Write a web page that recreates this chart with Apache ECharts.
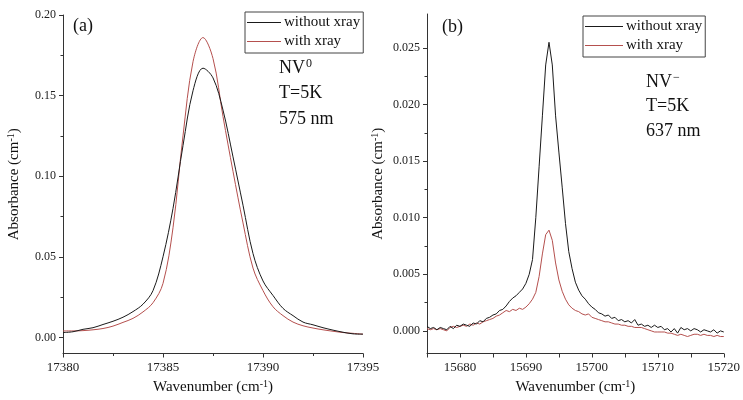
<!DOCTYPE html>
<html>
<head>
<meta charset="utf-8">
<script src="https://cdn.jsdelivr.net/npm/echarts@6/dist/echarts.min.js"></script>
<style>html,body{margin:0;padding:0;background:#fff}#c{width:743px;height:400px}</style>
</head>
<body>
<div id="c"></div>
<script>
// ---- Panel (a): NV0, 575 nm ----
const leftWn = [17380,17380.5,17381,17381.5,17382,17382.5,17383,17383.5,17384,17384.5,17385,17385.5,17386,17386.5,17387,17387.5,17388,17388.5,17389,17389.5,17390,17390.5,17391,17391.5,17392,17392.5,17393,17393.5,17394,17394.5,17395];
const leftWithout = [0.003,0.0035,0.005,0.006,0.008,0.010,0.0125,0.016,0.0206,0.029,0.050,0.080,0.119,0.153,0.167,0.161,0.141,0.112,0.082,0.052,0.035,0.026,0.018,0.0135,0.0095,0.0078,0.006,0.0045,0.0032,0.0022,0.002];
const leftWith = [0.004,0.004,0.0042,0.0047,0.0055,0.007,0.0093,0.0118,0.0158,0.0215,0.0335,0.068,0.125,0.171,0.186,0.173,0.137,0.103,0.071,0.043,0.029,0.019,0.0135,0.0095,0.0072,0.0058,0.0047,0.0038,0.003,0.0025,0.002];

// ---- Panel (b): NV-, 637 nm ----
const rightWn = [15675,15675.5,15676,15676.5,15677,15677.5,15678,15678.5,15679,15679.5,15680,15680.5,15681,15681.5,15682,15682.5,15683,15683.5,15684,15684.5,15685,15685.5,15686,15686.5,15687,15687.5,15688,15688.5,15689,15689.5,15690,15690.5,15691,15691.5,15692,15692.5,15693,15693.5,15694,15694.5,15695,15695.5,15696,15696.5,15697,15697.5,15698,15698.5,15699,15699.5,15700,15700.5,15701,15701.5,15702,15702.5,15703,15703.5,15704,15704.5,15705,15705.5,15706,15706.5,15707,15707.5,15708,15708.5,15709,15709.5,15710,15710.5,15711,15711.5,15712,15712.5,15713,15713.5,15714,15714.5,15715,15715.5,15716,15716.5,15717,15717.5,15718,15718.5,15719,15719.5,15720];
const rightWithout = [0.0004,0.0002,0.0003,0.0001,0.0003,0.0002,0.0001,0.0004,0.0002,0.0005,0.0004,0.0006,0.0005,0.0004,0.0007,0.0006,0.0009,0.0008,0.0011,0.0012,0.0014,0.0015,0.0018,0.0019,0.0022,0.0026,0.0029,0.0031,0.0034,0.0037,0.0042,0.0050,0.0063,0.0100,0.0145,0.0190,0.0235,0.0255,0.0235,0.0190,0.0158,0.0127,0.0095,0.0070,0.0055,0.0043,0.0036,0.0031,0.0028,0.0024,0.0021,0.0019,0.0016,0.0015,0.0013,0.0014,0.0011,0.0012,0.0009,0.0010,0.0008,0.0009,0.0007,0.0010,0.0005,0.0006,0.0004,0.0005,0.0003,0.0005,0.0003,0.0004,0.0001,0.0002,-0.0001,0.0002,-0.0002,0.0003,0.0001,0.0002,0.0000,0.0002,0.0001,-0.0001,0.0001,0.0000,-0.0001,0.0001,-0.0002,0.0000,-0.0001];
const rightWith = [0.0002,0.0001,0.0002,0.0001,0.0002,0.0001,0.0000,0.0003,0.0004,0.0003,0.0004,0.0005,0.0004,0.0006,0.0005,0.0007,0.0006,0.0008,0.0009,0.0010,0.0011,0.0013,0.0014,0.0016,0.0018,0.0017,0.0019,0.0018,0.0020,0.0019,0.0021,0.0024,0.0028,0.0034,0.0048,0.0068,0.0085,0.0089,0.0080,0.0060,0.0045,0.0035,0.0028,0.0023,0.0020,0.0018,0.0017,0.0015,0.0014,0.0015,0.0012,0.0011,0.0010,0.0009,0.0008,0.0008,0.0007,0.0006,0.0006,0.0005,0.0005,0.0004,0.0004,0.0003,0.0003,0.0003,0.0002,0.0001,0.0000,-0.0001,-0.0001,-0.0001,-0.0001,-0.0002,-0.0002,-0.0003,-0.0004,-0.0003,-0.0004,-0.0005,-0.0004,-0.0003,-0.0003,-0.0004,-0.0003,-0.0004,-0.0004,-0.0005,-0.0004,-0.0005,-0.0005];

const leftYTicks = [0, 0.05, 0.10, 0.15, 0.20];
const leftYMinor = [0.025, 0.075, 0.125, 0.175];
const rightYTicks = [0, 0.005, 0.010, 0.015, 0.020, 0.025];
const rightYMinor = [0.0025, 0.0075, 0.0125, 0.0175, 0.0225];
const seriesNames = ['without xray', 'with xray'];

const FONT = '"Liberation Serif", "DejaVu Serif", serif';
const BLACK = '#1a1a1a';
const RED = '#b5504e';
const AX = '#333';

function pairs(xs, ys) { return xs.map((x, i) => [x, ys[i]]); }

const nameRich = { s: { fontSize: 10, fontFamily: FONT, color: '#111', verticalAlign: 'top', padding: [0, 0, 6, 0] } };

function xAxisDef(grid, min, max, fmt, minorSplit) {
  return {
    type: 'value', gridIndex: grid, min: min, max: max, interval: 5,
    name: 'Wavenumber (cm{s|-1})', nameLocation: 'middle', nameGap: 26,
    nameTextStyle: { fontFamily: FONT, fontSize: 15, color: '#111', rich: nameRich },
    axisLine: { show: true, onZero: false, lineStyle: { color: AX, width: 1 } },
    axisTick: { show: true, inside: false, length: 4, lineStyle: { color: AX } },
    minorTick: { show: minorSplit > 0, splitNumber: minorSplit || 2, length: 2.5, lineStyle: { color: AX } },
    axisLabel: { fontFamily: FONT, fontSize: 13, color: '#222', margin: 8, formatter: fmt, showMinLabel: true, showMaxLabel: true },
    splitLine: { show: false }
  };
}
function yAxisDef(grid, min, max, ticks, dec) {
  return {
    type: 'value', gridIndex: grid, min: min, max: max,
    name: 'Absorbance (cm{s|-1})', nameLocation: 'middle', nameGap: 41,
    nameTextStyle: { fontFamily: FONT, fontSize: 15, color: '#111', rich: nameRich },
    axisLine: { show: true, onZero: false, lineStyle: { color: AX, width: 1 } },
    axisTick: { show: true, inside: false, length: 4, customValues: ticks, lineStyle: { color: AX } },
    axisLabel: { fontFamily: FONT, fontSize: 12, color: '#222', margin: 7, customValues: ticks, formatter: v => v.toFixed(dec) },
    splitLine: { show: false }
  };
}
function yMinorDef(grid, min, max, ticks) {
  return {
    type: 'value', gridIndex: grid, min: min, max: max, position: 'left',
    axisLine: { show: false },
    axisTick: { show: true, inside: false, length: 2.5, customValues: ticks, lineStyle: { color: AX } },
    axisLabel: { show: false },
    splitLine: { show: false }
  };
}

function legendDef(left, top, w) {
  return {
    left: left, top: top, orient: 'vertical',
    data: seriesNames.map(n => ({ name: n, icon: 'rect' })),
    borderColor: '#444', borderWidth: 1, borderRadius: 0,
    padding: [2, 3, 3, 2], itemGap: 2, itemWidth: w, itemHeight: 1,
    selectedMode: false,
    textStyle: { fontFamily: FONT, fontSize: 15, color: '#111', lineHeight: 17, padding: [0, 0, 0, -2] }
  };
}

const mainRich = {
  m: { fontFamily: FONT, fontSize: 18, color: '#111', lineHeight: 20 },
  s: { fontFamily: FONT, fontSize: 12, color: '#111', verticalAlign: 'top', lineHeight: 20, padding: [0, 0, 8, 1] }
};
function txt(x, y, t) {
  return { type: 'text', left: x, top: y, style: { text: t, rich: mainRich, fill: '#111' } };
}

const option = {
  animation: false,
  backgroundColor: '#fff',
  textStyle: { fontFamily: FONT },
  grid: [
    { left: 63, top: 15, width: 300, height: 341 },
    { left: 427, top: 14, width: 298, height: 342 }
  ],
  xAxis: [
    xAxisDef(0, 17380, 17395, v => String(v), 2),
    xAxisDef(1, 15675, 15720, v => (v % 10 === 0 ? String(v) : ''), 0)
  ],
  yAxis: [
    yAxisDef(0, -0.01, 0.2, leftYTicks, 2),
    yAxisDef(1, -0.002, 0.028, rightYTicks, 3),
    yMinorDef(0, -0.01, 0.2, leftYMinor),
    yMinorDef(1, -0.002, 0.028, rightYMinor)
  ],
  legend: [legendDef(245, 12, 34), legendDef(583, 16, 38)],
  series: [
    { name: seriesNames[0], type: 'line', xAxisIndex: 0, yAxisIndex: 0, data: pairs(leftWn, leftWithout), symbol: 'none', smooth: 0.35, lineStyle: { color: BLACK, width: 1 }, itemStyle: { color: BLACK }, z: 3 },
    { name: seriesNames[1], type: 'line', xAxisIndex: 0, yAxisIndex: 0, data: pairs(leftWn, leftWith), symbol: 'none', smooth: 0.35, lineStyle: { color: RED, width: 1 }, itemStyle: { color: RED }, z: 2 },
    { name: seriesNames[0], type: 'line', xAxisIndex: 1, yAxisIndex: 1, data: pairs(rightWn, rightWithout), symbol: 'none', lineStyle: { color: BLACK, width: 1 }, itemStyle: { color: BLACK }, z: 3 },
    { name: seriesNames[1], type: 'line', xAxisIndex: 1, yAxisIndex: 1, data: pairs(rightWn, rightWith), symbol: 'none', lineStyle: { color: RED, width: 1 }, itemStyle: { color: RED }, z: 2 }
  ],
  graphic: [
    txt(73, 17, '{m|(a)}'),
    txt(279, 58, '{m|NV}{s|0}'),
    txt(279, 84, '{m|T=5K}'),
    txt(279, 110, '{m|575 nm}'),
    txt(442, 18, '{m|(b)}'),
    txt(646, 72, '{m|NV}{s|−}'),
    txt(646, 97, '{m|T=5K}'),
    txt(646, 122, '{m|637 nm}')
  ]
};

const chart = echarts.init(document.getElementById('c'), null, { renderer: 'canvas' });
chart.setOption(option);
</script>
</body>
</html>
